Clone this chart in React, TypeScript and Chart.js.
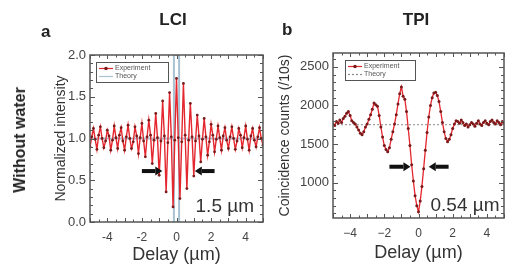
import React, { useEffect, useRef } from "react";
import { Chart, registerables } from "chart.js";

Chart.register(...registerables);

const FONT = "'Liberation Sans', Arial, Helvetica, sans-serif";

// ---- data ----
const DELAY_UM = [
  -5.0, -4.9, -4.8, -4.7, -4.6, -4.5, -4.4, -4.3, -4.2, -4.1,
  -4.0, -3.9, -3.8, -3.7, -3.6, -3.5, -3.4, -3.3, -3.2, -3.1,
  -3.0, -2.9, -2.8, -2.7, -2.6, -2.5, -2.4, -2.3, -2.2, -2.1,
  -2.0, -1.9, -1.8, -1.7, -1.6, -1.5, -1.4, -1.3, -1.2, -1.1,
  -1.0, -0.9, -0.8, -0.7, -0.6, -0.5, -0.4, -0.3, -0.2, -0.1,
  0.0, 0.1, 0.2, 0.3, 0.4, 0.5, 0.6, 0.7, 0.8, 0.9,
  1.0, 1.1, 1.2, 1.3, 1.4, 1.5, 1.6, 1.7, 1.8, 1.9,
  2.0, 2.1, 2.2, 2.3, 2.4, 2.5, 2.6, 2.7, 2.8, 2.9,
  3.0, 3.1, 3.2, 3.3, 3.4, 3.5, 3.6, 3.7, 3.8, 3.9,
  4.0, 4.1, 4.2, 4.3, 4.4, 4.5, 4.6, 4.7, 4.8, 4.9,
  5.0,
];

const LCI_EXPERIMENT = [
  0.90, 1.02, 1.12, 0.99, 0.87, 1.04, 1.14, 1.00, 0.89, 0.97,
  1.10, 1.03, 0.86, 0.98, 1.15, 1.01, 0.88, 1.04, 1.13, 0.97,
  0.86, 1.02, 1.16, 1.00, 0.88, 0.96, 1.14, 1.03, 0.82, 1.01,
  1.18, 0.97, 0.78, 1.02, 1.22, 1.04, 0.70, 0.98, 1.30, 1.01,
  0.56, 0.97, 1.45, 1.03, 0.36, 0.95, 1.55, 1.02, 0.18, 0.98,
  1.72, 1.01, 0.28, 0.96, 1.66, 1.04, 0.40, 0.98, 1.42, 1.02,
  0.55, 0.97, 1.28, 1.03, 0.72, 0.99, 1.24, 1.02, 0.80, 0.96,
  1.17, 1.04, 0.84, 0.99, 1.15, 1.01, 0.86, 1.03, 1.13, 0.98,
  0.88, 1.02, 1.14, 1.00, 0.87, 0.97, 1.12, 1.04, 0.89, 1.01,
  1.15, 0.99, 0.86, 1.03, 1.12, 0.98, 0.90, 1.02, 1.13, 1.00,
  0.92,
];

const LCI_THEORY_X = [-5, -0.15, -0.15, -0.15, 0.15, 0.15, 0.15, 5];
const LCI_THEORY_Y = [1, 1, 0, 2, 2, 0, 1, 1];

const TPI_EXPERIMENT = [
  1760, 1740, 1790, 1770, 1810, 1780, 1830, 1860, 1900, 1920,
  1870, 1800, 1780, 1760, 1720, 1680, 1640, 1620, 1660, 1720,
  1760, 1820, 1880, 1950, 2030, 2010, 1990, 1870, 1720, 1590,
  1480, 1430, 1400, 1450, 1560, 1660, 1760, 1880, 2020, 2150,
  2240, 2120, 2080, 1920, 1700, 1480, 1230, 1020, 830, 700,
  620, 760, 950, 1180, 1420, 1650, 1850, 2000, 2100, 2160,
  2170, 2130, 2050, 1920, 1780, 1660, 1570, 1530, 1560, 1620,
  1700, 1760, 1800, 1790, 1770, 1810, 1780, 1740, 1760, 1720,
  1750, 1780, 1760, 1730, 1770, 1800, 1760, 1740, 1780, 1800,
  1770, 1750, 1790, 1810, 1780, 1760, 1800, 1780, 1750, 1790,
  1770,
];

const TPI_THEORY_X = [-5, 5];
const TPI_THEORY_Y = [1750, 1750];

const DELAY_TICKS = [-4, -2, 0, 2, 4];
const DELAY_MINOR = [
  -5, -4.5, -4, -3.5, -3, -2.5, -2, -1.5, -1, -0.5, 0,
  0.5, 1, 1.5, 2, 2.5, 3, 3.5, 4, 4.5, 5,
];
const LCI_Y_TICKS = [0, 0.5, 1, 1.5, 2];
const LCI_Y_MINOR = [
  0, 0.1, 0.2, 0.3, 0.4, 0.5, 0.6, 0.7, 0.8, 0.9, 1.0,
  1.1, 1.2, 1.3, 1.4, 1.5, 1.6, 1.7, 1.8, 1.9, 2.0,
];
const TPI_Y_TICKS = [1000, 1500, 2000, 2500];
const TPI_Y_MINOR = [
  600, 700, 800, 900, 1000, 1100, 1200, 1300, 1400, 1500, 1600,
  1700, 1800, 1900, 2000, 2100, 2200, 2300, 2400, 2500, 2600,
];

const EXP_LINE = "#e4262e";
const EXP_POINT = "#7a1a1a";
const TICK_COLOR = "#444";
const FRAME_COLOR = "#555";

function drawArrow(ctx: CanvasRenderingContext2D, x0: number, x1: number, y: number) {
  const dir = Math.sign(x1 - x0);
  const head = 7;
  ctx.fillStyle = "#111";
  ctx.fillRect(Math.min(x0, x1 - dir * head), y - 2, Math.abs(x1 - x0) - head, 4);
  ctx.beginPath();
  ctx.moveTo(x1, y);
  ctx.lineTo(x1 - dir * head, y - 4.5);
  ctx.lineTo(x1 - dir * head, y + 4.5);
  ctx.closePath();
  ctx.fill();
}

function decorPlugin(cfg: any) {
  return {
    id: "decor",
    afterDatasetsDraw(chart: any) {
      const { ctx, chartArea: ca, scales } = chart;
      const xs = scales.x;
      const ys = scales.y;
      ctx.save();
      // inward ticks on all 4 sides
      ctx.strokeStyle = FRAME_COLOR;
      ctx.lineWidth = 1;
      ctx.beginPath();
      cfg.xMinor.forEach((v: number) => {
        const px = Math.round(xs.getPixelForValue(v)) + 0.5;
        const len = Number.isInteger(v) ? 4 : 2.5;
        ctx.moveTo(px, ca.bottom);
        ctx.lineTo(px, ca.bottom - len);
        ctx.moveTo(px, ca.top);
        ctx.lineTo(px, ca.top + len);
      });
      cfg.yMinor.forEach((v: number) => {
        const py = Math.round(ys.getPixelForValue(v)) + 0.5;
        const len = cfg.yMajor.some((m: number) => Math.abs(m - v) < 1e-6) ? 5 : 3;
        ctx.moveTo(ca.left, py);
        ctx.lineTo(ca.left + len, py);
        ctx.moveTo(ca.right, py);
        ctx.lineTo(ca.right - len, py);
      });
      ctx.stroke();
      // frame
      ctx.lineWidth = 1.5;
      ctx.strokeRect(ca.left, ca.top, ca.right - ca.left, ca.bottom - ca.top);

      // legend box
      const lg = cfg.legend;
      const lx = ca.left + lg.dx;
      const ly = ca.top + lg.dy;
      ctx.fillStyle = "#fff";
      ctx.fillRect(lx, ly, lg.w, lg.h);
      ctx.strokeStyle = FRAME_COLOR;
      ctx.lineWidth = 1;
      ctx.strokeRect(lx + 0.5, ly + 0.5, lg.w, lg.h);
      const r1 = ly + 6.5;
      const r2 = ly + 14.5;
      ctx.strokeStyle = EXP_LINE;
      ctx.lineWidth = 1.2;
      ctx.beginPath();
      ctx.moveTo(lx + 3, r1);
      ctx.lineTo(lx + 17, r1);
      ctx.stroke();
      ctx.fillStyle = EXP_POINT;
      ctx.beginPath();
      ctx.arc(lx + 10, r1, 1.8, 0, Math.PI * 2);
      ctx.fill();
      ctx.strokeStyle = lg.theoryColor;
      ctx.setLineDash(lg.theoryDash);
      ctx.beginPath();
      ctx.moveTo(lx + 3, r2);
      ctx.lineTo(lx + 17, r2);
      ctx.stroke();
      ctx.setLineDash([]);
      const labels = chart.data.datasets.map((d: any) => d.label);
      ctx.fillStyle = "#555";
      ctx.font = `7px ${FONT}`;
      ctx.textBaseline = "middle";
      ctx.textAlign = "left";
      ctx.fillText(labels[1], lx + 19, r1);
      ctx.fillText(labels[0], lx + 19, r2);

      // arrows
      cfg.arrows.forEach((a: any) => {
        drawArrow(ctx, xs.getPixelForValue(a.from), xs.getPixelForValue(a.to), ys.getPixelForValue(a.y));
      });
      // width note
      ctx.fillStyle = "#333";
      ctx.font = `19px ${FONT}`;
      ctx.textBaseline = "alphabetic";
      ctx.fillText(cfg.note.text, xs.getPixelForValue(cfg.note.x), ys.getPixelForValue(cfg.note.y));
      ctx.restore();
    },
  };
}

function makeConfig(opts: any): any {
  return {
    type: "line",
    data: {
      datasets: [
        {
          label: "Theory",
          data: opts.theoryX.map((x: number, i: number) => ({ x, y: opts.theoryY[i] })),
          borderColor: opts.theoryColor,
          borderWidth: opts.theoryWidth,
          borderDash: opts.theoryDash,
          pointRadius: 0,
          order: 2,
        },
        {
          label: "Experiment",
          data: DELAY_UM.map((x, i) => ({ x, y: opts.exp[i] })),
          borderColor: EXP_LINE,
          borderWidth: opts.expWidth,
          pointRadius: opts.pointRadius,
          pointBackgroundColor: EXP_POINT,
          pointBorderWidth: 0,
          order: 1,
        },
      ],
    },
    options: {
      animation: false,
      responsive: false,
      maintainAspectRatio: false,
      layout: { padding: opts.padding },
      plugins: { legend: { display: false }, tooltip: { enabled: false }, title: { display: false } },
      scales: {
        x: {
          type: "linear",
          min: -5,
          max: 5,
          afterBuildTicks: (s: any) => {
            s.ticks = DELAY_TICKS.map((v) => ({ value: v }));
          },
          afterFit: (s: any) => {
            s.height = opts.xHeight;
          },
          grid: { display: false, drawTicks: false },
          border: { display: false },
          ticks: {
            padding: 8,
            color: TICK_COLOR,
            font: { family: FONT, size: 12 },
            maxRotation: 0,
            callback: (v: any) => (v < 0 ? opts.minus + Math.abs(v) : String(v)),
          },
          title: {
            display: true,
            text: "Delay (µm)",
            color: "#333",
            font: { family: FONT, size: 18, lineHeight: 1 },
            padding: { top: 0, bottom: opts.xTitlePad },
          },
        },
        y: {
          type: "linear",
          min: opts.yMin,
          max: opts.yMax,
          afterBuildTicks: (s: any) => {
            s.ticks = opts.yTicks.map((v: number) => ({ value: v }));
          },
          afterFit: (s: any) => {
            s.width = opts.yWidth;
          },
          grid: { display: false, drawTicks: false },
          border: { display: false },
          ticks: {
            padding: 4,
            color: TICK_COLOR,
            font: { family: FONT, size: 13 },
            callback: opts.yFormat,
          },
          title: {
            display: true,
            text: opts.yTitle,
            color: "#333",
            font: { family: FONT, size: 14, lineHeight: 1.2 },
            padding: { top: 2.6, bottom: 0 },
          },
        },
      },
    },
    plugins: [
      decorPlugin({
        xMinor: DELAY_MINOR,
        yMinor: opts.yMinor,
        yMajor: opts.yTicks,
        legend: opts.legend,
        arrows: opts.arrows,
        note: opts.note,
      }),
    ],
  };
}

const lciConfig = () =>
  makeConfig({
    exp: LCI_EXPERIMENT,
    theoryX: LCI_THEORY_X,
    theoryY: LCI_THEORY_Y,
    theoryColor: "#a9c2d2",
    theoryWidth: 2,
    theoryDash: [],
    expWidth: 1.4,
    pointRadius: 1.4,
    padding: { left: 50, top: 55, right: 7, bottom: 0 },
    xHeight: 42,
    xTitlePad: 0,
    yWidth: 40,
    yMin: 0,
    yMax: 2,
    yTicks: LCI_Y_TICKS,
    yMinor: LCI_Y_MINOR,
    yFormat: (v: any) => Number(v).toFixed(1),
    yTitle: "Normalized intensity",
    minus: "-",
    legend: { dx: 6, dy: 7, w: 72, h: 20, theoryColor: "#a9c2d2", theoryDash: [] },
    arrows: [
      { from: -2.0, to: -0.82, y: 0.61 },
      { from: 2.2, to: 1.06, y: 0.61 },
    ],
    note: { text: "1.5 µm", x: 1.1, y: 0.12 },
  });

const tpiConfig = () =>
  makeConfig({
    exp: TPI_EXPERIMENT,
    theoryX: TPI_THEORY_X,
    theoryY: TPI_THEORY_Y,
    theoryColor: "#8a8a8a",
    theoryWidth: 1,
    theoryDash: [2, 2],
    expWidth: 1.3,
    pointRadius: 1.5,
    padding: { left: 4, top: 53, right: 1, bottom: 0 },
    xHeight: 46,
    xTitlePad: 1.5,
    yWidth: 59,
    yMin: 540,
    yMax: 2680,
    yTicks: TPI_Y_TICKS,
    yMinor: TPI_Y_MINOR,
    yFormat: (v: any) => String(v),
    yTitle: "Coincidence counts (/10s)",
    minus: "\u2212",
    legend: { dx: 12, dy: 7, w: 70, h: 20, theoryColor: "#8a8a8a", theoryDash: [2, 2] },
    arrows: [
      { from: -1.7, to: -0.47, y: 1205 },
      { from: 1.76, to: 0.6, y: 1205 },
    ],
    note: { text: "0.54 µm", x: 0.7, y: 630 },
  });

function ChartPanel({ makeCfg, left, width }: { makeCfg: () => any; left: number; width: number }) {
  const ref = useRef<HTMLCanvasElement>(null);
  useEffect(() => {
    const chart = new Chart(ref.current as HTMLCanvasElement, makeCfg());
    return () => chart.destroy();
  }, []);
  return (
    <canvas
      ref={ref}
      width={width}
      height={264}
      style={{ position: "absolute", left, top: 0, width, height: 264, display: "block" }}
    />
  );
}

const textBase: React.CSSProperties = {
  position: "absolute",
  fontFamily: FONT,
  fontWeight: "bold",
  color: "#222",
  lineHeight: 1,
  whiteSpace: "nowrap",
};

export default function App() {
  return (
    <div
      style={{
        position: "fixed",
        left: 0,
        top: 0,
        width: 508,
        height: 264,
        background: "#fff",
        overflow: "hidden",
      }}
    >
      <ChartPanel makeCfg={lciConfig} left={0} width={270} />
      <ChartPanel makeCfg={tpiConfig} left={270} width={238} />
      <div style={{ ...textBase, fontSize: 17, left: 41, top: 22.6 }}>a</div>
      <div style={{ ...textBase, fontSize: 17, left: 282, top: 20.6 }}>b</div>
      <div style={{ ...textBase, fontSize: 17, left: 173, top: 10.6, transform: "translateX(-50%)" }}>LCI</div>
      <div style={{ ...textBase, fontSize: 17, left: 416, top: 10.6, transform: "translateX(-50%)" }}>TPI</div>
      <div
        style={{
          ...textBase,
          fontSize: 16,
          left: 20,
          top: 140,
          transform: "translate(-50%, -50%) rotate(-90deg)",
        }}
      >
        Without water
      </div>
    </div>
  );
}
